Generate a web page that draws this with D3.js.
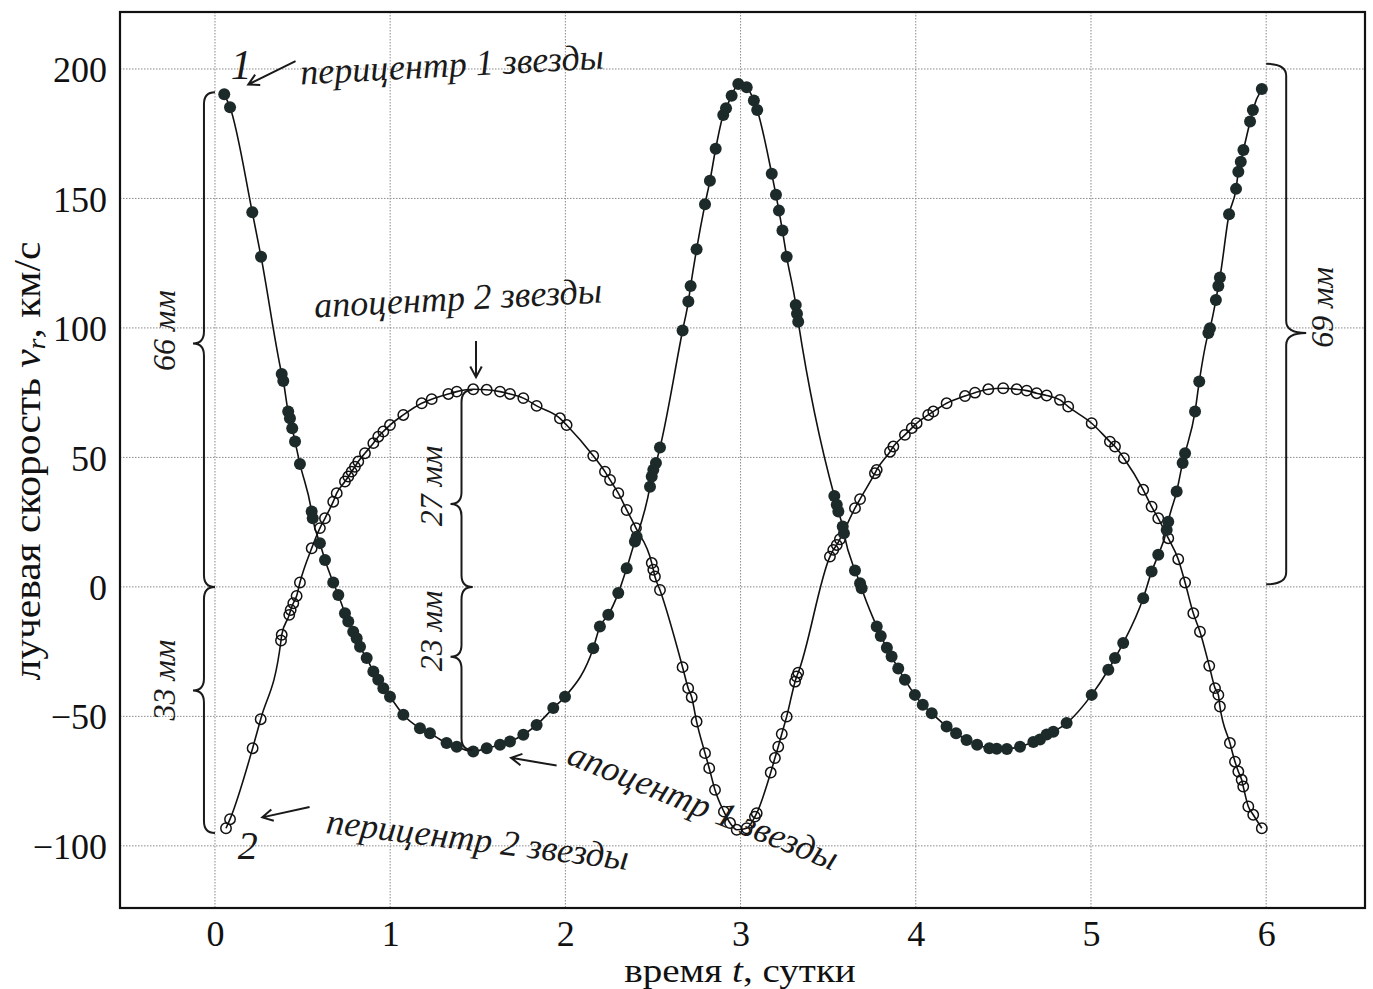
<!DOCTYPE html>
<html><head><meta charset="utf-8">
<script src="https://cdn.jsdelivr.net/npm/d3@7"></script>
<style>body{margin:0;background:#fff}</style>
</head><body>
<svg id="c" width="1373" height="989"></svg>
<script>
const xTicks = [0,1,2,3,4,5,6];
const yTicks = [-100,-50,0,50,100,150,200];

// star 1 (filled points): time and velocity
const star1T = [0.053,0.086,0.213,0.263,0.381,0.390,0.418,0.428,0.441,0.457,0.485,0.552,0.558,0.599,0.628,0.675,0.704,0.742,0.761,0.789,0.809,0.828,0.866,0.904,0.932,0.961,0.999,1.075,1.170,1.227,1.322,1.380,1.474,1.551,1.627,1.684,1.760,1.836,1.931,1.998,2.159,2.197,2.245,2.302,2.350,2.397,2.407,2.483,2.493,2.502,2.517,2.540,2.669,2.702,2.715,2.749,2.797,2.825,2.858,2.901,2.917,2.949,2.987,3.035,3.076,3.095,3.178,3.202,3.219,3.239,3.263,3.315,3.322,3.329,3.535,3.549,3.558,3.583,3.590,3.653,3.682,3.691,3.777,3.800,3.835,3.862,3.900,3.938,3.995,4.040,4.091,4.176,4.230,4.290,4.350,4.420,4.462,4.520,4.595,4.671,4.709,4.747,4.785,4.861,5.004,5.099,5.137,5.184,5.298,5.346,5.384,5.432,5.441,5.489,5.523,5.537,5.594,5.618,5.670,5.679,5.713,5.727,5.736,5.788,5.828,5.841,5.855,5.870,5.908,5.924,5.975];
const star1V = [190.2,185.2,144.7,127.5,82.2,79.5,67.7,65.1,61.3,56.1,47.5,29.1,26.5,16.9,10.4,1.7,-3.1,-10.2,-13.4,-17.3,-19.8,-23.1,-27.5,-32.7,-35.9,-39.1,-42.4,-49.4,-54.6,-56.5,-60.3,-61.7,-63.6,-62.3,-61.0,-59.7,-57.1,-53.3,-46.8,-42.4,-23.7,-15.3,-10.8,-2.4,7.2,17.5,19.4,38.7,42.6,45.2,47.8,53.8,99.0,110.2,116.2,130.4,147.8,156.8,169.2,182.2,184.8,189.7,194.2,192.9,187.8,184.2,159.5,151.4,145.3,137.6,127.5,108.9,105.5,102.4,35.1,31.7,29.1,23.3,20.7,6.3,1.4,-0.5,-15.3,-19.0,-23.5,-26.9,-31.5,-35.9,-41.7,-45.5,-48.8,-53.9,-56.5,-59.1,-61.0,-62.3,-62.5,-62.6,-61.7,-59.9,-58.9,-57.0,-55.9,-52.6,-41.7,-32.0,-27.5,-21.7,-4.4,5.9,12.4,22.0,25.2,36.8,47.8,51.6,67.7,79.3,98.0,99.9,110.8,116.2,119.5,143.9,153.7,160.3,164.2,168.7,179.7,184.2,192.3];

// star 2 (open circles)
const star2T = [0.063,0.086,0.215,0.261,0.377,0.381,0.424,0.432,0.447,0.466,0.485,0.552,0.599,0.628,0.675,0.695,0.742,0.761,0.780,0.799,0.818,0.856,0.904,0.932,0.961,0.999,1.075,1.180,1.237,1.332,1.380,1.474,1.551,1.627,1.684,1.760,1.836,1.969,2.007,2.159,2.226,2.255,2.302,2.350,2.403,2.493,2.502,2.511,2.540,2.669,2.701,2.721,2.749,2.797,2.821,2.854,2.905,2.940,2.978,3.035,3.082,3.092,3.172,3.196,3.215,3.235,3.263,3.311,3.320,3.329,3.510,3.529,3.549,3.567,3.653,3.682,3.767,3.777,3.853,3.872,3.938,3.977,4.005,4.071,4.100,4.176,4.281,4.338,4.414,4.499,4.576,4.633,4.690,4.747,4.823,4.870,5.004,5.108,5.137,5.188,5.298,5.346,5.384,5.441,5.498,5.537,5.584,5.622,5.675,5.708,5.727,5.736,5.793,5.822,5.841,5.860,5.869,5.898,5.926,5.975];
const star2V = [-93.2,-89.7,-62.3,-51.1,-20.7,-18.5,-10.8,-8.9,-6.3,-3.5,1.7,14.9,22.7,26.5,32.9,36.2,40.7,42.6,44.5,46.4,48.4,51.6,55.5,58.0,60.0,62.5,66.4,70.9,72.5,74.5,75.4,76.3,76.1,75.4,74.5,72.9,69.9,65.1,62.5,50.6,44.5,41.3,36.2,29.7,22.7,9.2,6.6,4.0,-1.2,-31.0,-39.1,-42.6,-52.0,-64.2,-70.0,-78.4,-86.8,-91.2,-93.8,-93.2,-88.7,-87.4,-71.7,-66.1,-61.7,-56.8,-50.1,-36.6,-34.6,-33.1,11.7,14.3,16.2,18.4,30.4,33.9,43.9,45.2,52.2,54.2,58.7,61.3,63.2,66.4,67.7,70.9,73.7,75.0,76.3,76.7,76.3,75.8,74.8,73.9,72.2,69.6,63.2,56.1,54.2,49.7,37.5,31.0,26.5,18.8,10.7,1.7,-10.2,-17.3,-30.5,-39.1,-41.7,-46.2,-60.3,-67.5,-71.3,-74.5,-77.1,-84.8,-88.0,-93.2];

// handwritten annotations (data coordinates)
const notes = [
  {text:"1", t:0.09, v:196, rot:0, size:42},
  {text:"2", t:0.13, v:-105, rot:0, size:40},
  {text:"перицентр 1 звезды", t:0.49, v:194, rot:-3, size:36},
  {text:"апоцентр 2 звезды", t:0.57, v:104, rot:-3, size:36},
  {text:"перицентр 2 звезды", t:0.63, v:-95, rot:7, size:36},
  {text:"апоцентр 1 звезды", t:2.0, v:-68, rot:22, size:36}
];
const arrows = [
  {t1:0.46, v1:203, t2:0.19, v2:194},
  {t1:1.49, v1:95, t2:1.49, v2:81},
  {t1:0.54, v1:-85, t2:0.27, v2:-89},
  {t1:1.95, v1:-69, t2:1.69, v2:-66}
];
const braces = [
  {t:0, v1:191, v2:0, vtip:94, d:-22, label:"66 мм", lt:-0.29, lv:99},
  {t:0, v1:0, v2:-95, vtip:-40, d:-22, label:"33 мм", lt:-0.29, lv:-36},
  {t:1.47, v1:76, v2:0, vtip:32, d:-22, label:"27 мм", lt:1.23, lv:39},
  {t:1.47, v1:0, v2:-63, vtip:-27, d:-22, label:"23 мм", lt:1.23, lv:-17},
  {t:6.0, v1:202, v2:1, vtip:98, d:40, label:"69 мм", lt:6.32, lv:108}
];

const svg = d3.select("#c");
const L=120, R=1365, T=12, B=908;
const x = d3.scaleLinear().domain([-0.542, 6.564]).range([L, R]);
const y = d3.scaleLinear().domain([-124, 222]).range([B, T]);

// grid
const g = svg.append("g");
g.selectAll(".gx").data(xTicks).enter().append("line")
  .attr("x1", d=>x(d)).attr("x2", d=>x(d)).attr("y1", T).attr("y2", B)
  .attr("stroke", "#8a8a8a").attr("stroke-width", 1).attr("stroke-dasharray", "1.5,1.5");
g.selectAll(".gy").data(yTicks).enter().append("line")
  .attr("y1", d=>y(d)).attr("y2", d=>y(d)).attr("x1", L).attr("x2", R)
  .attr("stroke", "#8a8a8a").attr("stroke-width", 1).attr("stroke-dasharray", "1.5,1.5");

// axes (labels only)
const fmt = d => d < 0 ? "\u2212" + Math.abs(d) : String(d);
const xAxis = d3.axisBottom(x).tickValues(xTicks).tickSize(0).tickPadding(12).tickFormat(fmt);
const yAxis = d3.axisLeft(y).tickValues(yTicks).tickSize(0).tickPadding(13).tickFormat(fmt);
const ax = svg.append("g").attr("transform", `translate(0,${B})`).call(xAxis);
const ay = svg.append("g").attr("transform", `translate(${L},0)`).call(yAxis);
[ax, ay].forEach(a => {
  a.select(".domain").remove();
  a.selectAll("text").attr("font-family", "Liberation Serif, serif").attr("font-size", 36).attr("fill", "#111");
});
ay.selectAll("text").attr("dy", "0.35em");

// frame
svg.append("rect").attr("x", L).attr("y", T).attr("width", R-L).attr("height", B-T)
  .attr("fill", "none").attr("stroke", "#111").attr("stroke-width", 2.2);

// series
const s1 = star1T.map((t,i)=>[t, star1V[i]]);
const s2 = star2T.map((t,i)=>[t, star2V[i]]);
const line = d3.line().x(d=>x(d[0])).y(d=>y(d[1])).curve(d3.curveMonotoneX);
svg.append("path").attr("d", line(s1)).attr("fill","none").attr("stroke","#111").attr("stroke-width",1.6);
svg.append("path").attr("d", line(s2)).attr("fill","none").attr("stroke","#111").attr("stroke-width",1.6);
svg.append("g").selectAll("circle").data(s2).enter().append("circle")
  .attr("cx", d=>x(d[0])).attr("cy", d=>y(d[1])).attr("r", 5.2)
  .attr("fill", "none").attr("stroke", "#111").attr("stroke-width", 1.5);
svg.append("g").selectAll("circle").data(s1).enter().append("circle")
  .attr("cx", d=>x(d[0])).attr("cy", d=>y(d[1])).attr("r", 6)
  .attr("fill", "#1d2a2a");

// axis titles
svg.append("text").attr("transform","translate(740,982) scale(1.15,1)").attr("text-anchor","middle")
  .attr("font-family","Liberation Serif, serif").attr("font-size",34).attr("fill","#111")
  .html('время <tspan font-style="italic">t</tspan>, сутки');
svg.append("text").attr("transform","translate(40,461) rotate(-90) scale(1.12,1)").attr("text-anchor","middle")
  .attr("font-family","Liberation Serif, serif").attr("font-size",37).attr("fill","#111")
  .html('лучевая скорость <tspan font-style="italic">v</tspan><tspan font-style="italic" font-size="25" dy="5">r</tspan><tspan dy="-5">, км/с</tspan>');

// annotations
const hand = "Liberation Serif, serif";
const ann = svg.append("g").attr("fill","#1a1a1a");
notes.forEach(n => {
  ann.append("text").attr("transform", `translate(${x(n.t)},${y(n.v)}) rotate(${n.rot})`)
    .attr("font-family", hand).attr("font-style","italic").attr("font-size", n.size).text(n.text);
});
arrows.forEach(a => {
  const x1=x(a.t1), y1=y(a.v1), x2=x(a.t2), y2=y(a.v2);
  const ang = Math.atan2(y2-y1, x2-x1), h=12;
  const p = `M${x1},${y1}L${x2},${y2}M${x2-h*Math.cos(ang-0.5)},${y2-h*Math.sin(ang-0.5)}L${x2},${y2}L${x2-h*Math.cos(ang+0.5)},${y2-h*Math.sin(ang+0.5)}`;
  ann.append("path").attr("d", p).attr("fill","none").attr("stroke","#1a1a1a").attr("stroke-width",2);
});
braces.forEach(b => {
  const xe = x(b.t), ya = y(b.v1), yb = y(b.v2), ym = y(b.vtip);
  const xs = xe + b.d/2, xt = xe + b.d, r = 12;
  const p = `M${xe},${ya}Q${xs},${ya} ${xs},${ya+r}L${xs},${ym-r}Q${xs},${ym} ${xt},${ym}Q${xs},${ym} ${xs},${ym+r}L${xs},${yb-r}Q${xs},${yb} ${xe},${yb}`;
  ann.append("path").attr("d", p).attr("fill","none").attr("stroke","#1a1a1a").attr("stroke-width",2);
  ann.append("text").attr("transform", `translate(${x(b.lt)},${y(b.lv)}) rotate(-90)`)
    .attr("text-anchor","middle").attr("dy","0.35em")
    .attr("font-family", hand).attr("font-style","italic").attr("font-size",32).text(b.label);
});
</script>
</body></html>
